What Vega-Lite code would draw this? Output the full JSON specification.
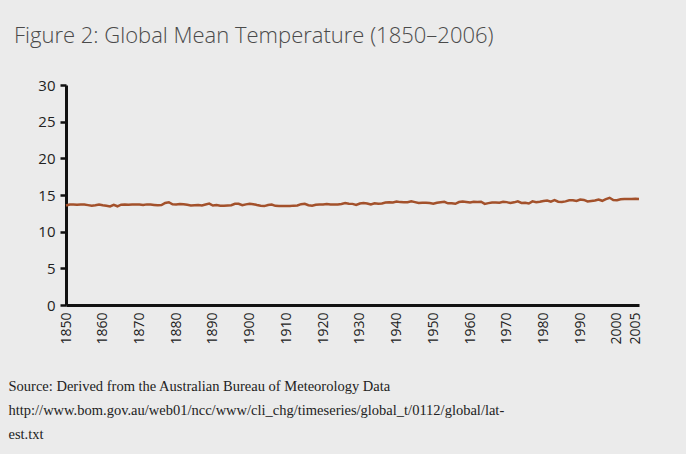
{
  "$schema": "https://vega.github.io/schema/vega-lite/v6.json",
  "width": 573,
  "height": 220,
  "autosize": "none",
  "padding": {"left": 66, "top": 85, "right": 47, "bottom": 149},
  "background": "#ebebeb",
  "config": {"view": {"stroke": null}},
  "title": {
    "text": "Figure 2: Global Mean Temperature (1850–2006)",
    "anchor": "start",
    "frame": "group",
    "font": "Open Sans",
    "fontWeight": 300,
    "fontSize": 22,
    "color": "#4a4a4a",
    "baseline": "alphabetic",
    "dx": -52,
    "offset": 13
  },
  "data": {
    "values": [
      {"year":1850,"temp":13.56},{"year":1851,"temp":13.70},{"year":1852,"temp":13.70},{"year":1853,"temp":13.66},{"year":1854,"temp":13.71},
      {"year":1855,"temp":13.71},{"year":1856,"temp":13.62},{"year":1857,"temp":13.54},{"year":1858,"temp":13.60},{"year":1859,"temp":13.71},
      {"year":1860,"temp":13.60},{"year":1861,"temp":13.54},{"year":1862,"temp":13.44},{"year":1863,"temp":13.65},{"year":1864,"temp":13.46},
      {"year":1865,"temp":13.68},{"year":1866,"temp":13.70},{"year":1867,"temp":13.68},{"year":1868,"temp":13.71},{"year":1869,"temp":13.72},
      {"year":1870,"temp":13.69},{"year":1871,"temp":13.64},{"year":1872,"temp":13.72},{"year":1873,"temp":13.69},{"year":1874,"temp":13.64},
      {"year":1875,"temp":13.60},{"year":1876,"temp":13.62},{"year":1877,"temp":13.91},{"year":1878,"temp":14.01},{"year":1879,"temp":13.73},
      {"year":1880,"temp":13.72},{"year":1881,"temp":13.77},{"year":1882,"temp":13.74},{"year":1883,"temp":13.66},{"year":1884,"temp":13.58},
      {"year":1885,"temp":13.60},{"year":1886,"temp":13.63},{"year":1887,"temp":13.58},{"year":1888,"temp":13.71},{"year":1889,"temp":13.83},
      {"year":1890,"temp":13.57},{"year":1891,"temp":13.62},{"year":1892,"temp":13.55},{"year":1893,"temp":13.55},{"year":1894,"temp":13.58},
      {"year":1895,"temp":13.61},{"year":1896,"temp":13.80},{"year":1897,"temp":13.81},{"year":1898,"temp":13.60},{"year":1899,"temp":13.72},
      {"year":1900,"temp":13.81},{"year":1901,"temp":13.75},{"year":1902,"temp":13.63},{"year":1903,"temp":13.54},{"year":1904,"temp":13.49},
      {"year":1905,"temp":13.64},{"year":1906,"temp":13.69},{"year":1907,"temp":13.52},{"year":1908,"temp":13.49},{"year":1909,"temp":13.49},
      {"year":1910,"temp":13.50},{"year":1911,"temp":13.49},{"year":1912,"temp":13.55},{"year":1913,"temp":13.57},{"year":1914,"temp":13.75},
      {"year":1915,"temp":13.80},{"year":1916,"temp":13.60},{"year":1917,"temp":13.53},{"year":1918,"temp":13.67},{"year":1919,"temp":13.71},
      {"year":1920,"temp":13.71},{"year":1921,"temp":13.78},{"year":1922,"temp":13.70},{"year":1923,"temp":13.71},{"year":1924,"temp":13.71},
      {"year":1925,"temp":13.78},{"year":1926,"temp":13.91},{"year":1927,"temp":13.80},{"year":1928,"temp":13.79},{"year":1929,"temp":13.64},
      {"year":1930,"temp":13.84},{"year":1931,"temp":13.90},{"year":1932,"temp":13.84},{"year":1933,"temp":13.71},{"year":1934,"temp":13.87},
      {"year":1935,"temp":13.80},{"year":1936,"temp":13.85},{"year":1937,"temp":13.97},{"year":1938,"temp":14.00},{"year":1939,"temp":13.98},
      {"year":1940,"temp":14.12},{"year":1941,"temp":14.03},{"year":1942,"temp":14.02},{"year":1943,"temp":14.02},{"year":1944,"temp":14.15},
      {"year":1945,"temp":14.03},{"year":1946,"temp":13.90},{"year":1947,"temp":13.95},{"year":1948,"temp":13.93},{"year":1949,"temp":13.90},
      {"year":1950,"temp":13.82},{"year":1951,"temp":13.95},{"year":1952,"temp":14.01},{"year":1953,"temp":14.08},{"year":1954,"temp":13.87},
      {"year":1955,"temp":13.86},{"year":1956,"temp":13.80},{"year":1957,"temp":14.04},{"year":1958,"temp":14.11},{"year":1959,"temp":14.06},
      {"year":1960,"temp":13.99},{"year":1961,"temp":14.08},{"year":1962,"temp":14.04},{"year":1963,"temp":14.08},{"year":1964,"temp":13.79},
      {"year":1965,"temp":13.89},{"year":1966,"temp":13.97},{"year":1967,"temp":13.99},{"year":1968,"temp":13.96},{"year":1969,"temp":14.08},
      {"year":1970,"temp":14.03},{"year":1971,"temp":13.90},{"year":1972,"temp":14.00},{"year":1973,"temp":14.14},{"year":1974,"temp":13.92},
      {"year":1975,"temp":13.95},{"year":1976,"temp":13.84},{"year":1977,"temp":14.13},{"year":1978,"temp":14.02},{"year":1979,"temp":14.09},
      {"year":1980,"temp":14.18},{"year":1981,"temp":14.25},{"year":1982,"temp":14.09},{"year":1983,"temp":14.30},{"year":1984,"temp":14.08},
      {"year":1985,"temp":14.06},{"year":1986,"temp":14.13},{"year":1987,"temp":14.27},{"year":1988,"temp":14.29},{"year":1989,"temp":14.18},
      {"year":1990,"temp":14.39},{"year":1991,"temp":14.33},{"year":1992,"temp":14.12},{"year":1993,"temp":14.19},{"year":1994,"temp":14.26},
      {"year":1995,"temp":14.39},{"year":1996,"temp":14.21},{"year":1997,"temp":14.44},{"year":1998,"temp":14.62},{"year":1999,"temp":14.30},
      {"year":2000,"temp":14.28},{"year":2001,"temp":14.41},{"year":2002,"temp":14.46},{"year":2003,"temp":14.47},{"year":2004,"temp":14.45},
      {"year":2005,"temp":14.48},{"year":2006,"temp":14.45}
    ]
  },
  "mark": {"type": "line", "color": "#a3512b", "strokeWidth": 2.5},
  "encoding": {
    "x": {
      "field": "year",
      "type": "quantitative",
      "scale": {"domain": [1850, 2006], "nice": false, "zero": false},
      "axis": {
        "values": [1850,1860,1870,1880,1890,1900,1910,1920,1930,1940,1950,1960,1970,1980,1990,2000,2005],
        "format": "d",
        "labelAngle": 270,
        "labelFont": "Open Sans",
        "labelFontSize": 14,
        "labelColor": "#222222",
        "labelPadding": 7,
        "labelOverlap": false,
        "labelFlush": false,
        "ticks": false,
        "grid": false,
        "domainColor": "#111111",
        "domainWidth": 3,
        "title": [
          "Source: Derived from the Australian Bureau of Meteorology Data",
          "http://www.bom.gov.au/web01/ncc/www/cli_chg/timeseries/global_t/0112/global/lat-",
          "est.txt"
        ],
        "titleFont": "Liberation Serif",
        "titleFontWeight": "normal",
        "titleFontSize": 14.5,
        "titleColor": "#222222",
        "titleAnchor": "start",
        "titleAlign": "left",
        "titleBaseline": "alphabetic",
        "titleLineHeight": 24,
        "titleX": -58,
        "titleY": 85
      }
    },
    "y": {
      "field": "temp",
      "type": "quantitative",
      "scale": {"domain": [0, 30], "nice": false},
      "axis": {
        "values": [0,5,10,15,20,25,30],
        "labelFont": "Open Sans",
        "labelFontSize": 15,
        "labelColor": "#222222",
        "labelPadding": 5,
        "tickSize": 6,
        "tickWidth": 2.5,
        "tickColor": "#111111",
        "domainColor": "#111111",
        "domainWidth": 3,
        "grid": false,
        "title": null
      }
    }
  }
}
